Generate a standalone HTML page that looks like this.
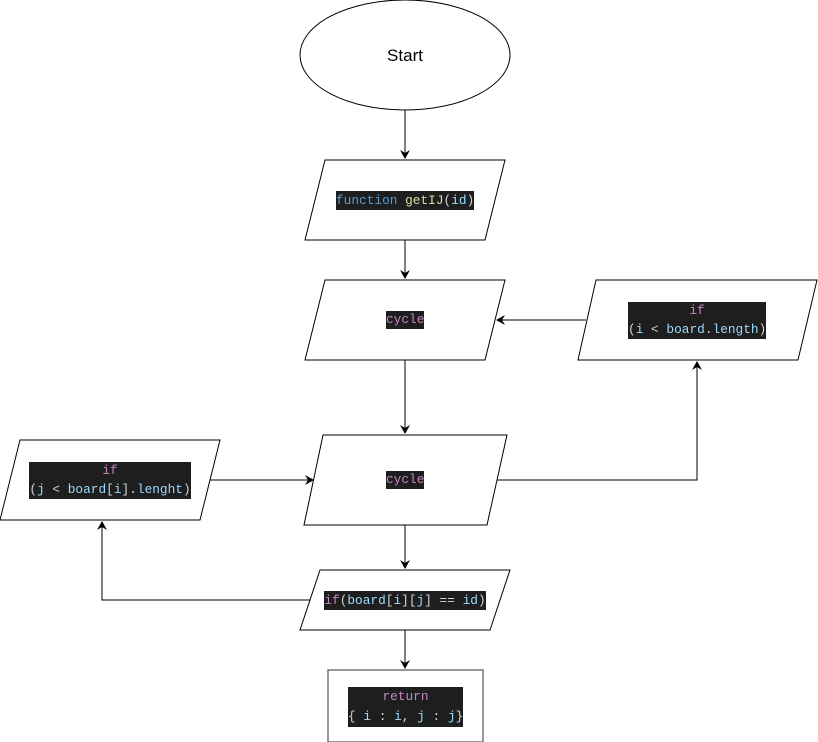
<!DOCTYPE html>
<html><head><meta charset="utf-8"><style>
body{margin:0;width:818px;height:742px;background:#fff;position:relative;overflow:hidden}
svg{position:absolute;left:0;top:0}
.l{position:absolute;background:#1e1e1e;font-family:"Liberation Mono",monospace;font-size:12.8px;line-height:19px;text-align:center;color:#d4d4d4;white-space:pre;overflow:hidden}
.k{color:#569cd6}.f{color:#dcdcaa}.v{color:#9cdcfe}.p{color:#c586c0}
</style></head><body>
<svg width="818" height="742" viewBox="0 0 818 742">
<defs><marker id="a" markerWidth="10" markerHeight="10" refX="8" refY="5" orient="auto" markerUnits="userSpaceOnUse"><path d="M0,0 L9,5 L0,10 L3,5 z" fill="#000"/></marker></defs>
<g fill="#fff" stroke="#000" stroke-width="1">
<ellipse cx="405" cy="55" rx="105" ry="55"/>
<polygon points="325,160 505,160 485,240 305,240"/>
<polygon points="325,280 505,280 485,360 305,360"/>
<polygon points="596,280 817,280 798,360 578,360"/>
<polygon points="323,435 507,435 487,525 304,525"/>
<polygon points="20,440 220,440 200,520 0,520"/>
<polygon points="320,570 510,570 490,630 300,630"/>
<rect x="328" y="670" width="155" height="72" stroke="#777" stroke-width="1.5"/>
</g>
<g fill="none" stroke="#000" stroke-width="1" marker-end="url(#a)">
<path d="M405,110 V158"/>
<path d="M405,240 V278"/>
<path d="M405,360 V433"/>
<path d="M586,320 H497"/>
<path d="M497,480 H697 V362"/>
<path d="M210,480 H313"/>
<path d="M310,600 H102 V522"/>
<path d="M405,525 V568"/>
<path d="M405,630 V668"/>
</g>
<text x="405" y="61" font-family="Liberation Sans,sans-serif" font-size="17" text-anchor="middle">Start</text>
</svg>
<div class="l" style="left:336px;top:191px;width:138px"><span class="k">function</span> <span class="f">getIJ</span>(<span class="v">id</span>)</div>
<div class="l" style="left:386px;top:311px;width:38px;height:18px;line-height:18px"><span class="p">cycle</span></div>
<div class="l" style="left:628px;top:302px;width:138px;line-height:18.5px"><span class="p">if</span>
(<span class="v">i</span> &lt; <span class="v">board</span>.<span class="v">length</span>)</div>
<div class="l" style="left:386px;top:471px;width:38px;height:18px;line-height:18px"><span class="p">cycle</span></div>
<div class="l" style="left:29px;top:462px;width:162px;line-height:18.5px"><span class="p">if</span>
(<span class="v">j</span> &lt; <span class="v">board</span>[<span class="v">i</span>].<span class="v">lenght</span>)</div>
<div class="l" style="left:324px;top:591px;width:162px"><span class="p">if</span>(<span class="v">board</span>[<span class="v">i</span>][<span class="v">j</span>] == <span class="v">id</span>)</div>
<div class="l" style="left:348px;top:687px;width:115px;line-height:20px"><span class="p">return</span>
{ <span class="v">i</span> : <span class="v">i</span>, <span class="v">j</span> : <span class="v">j</span>}</div>
</body></html>
